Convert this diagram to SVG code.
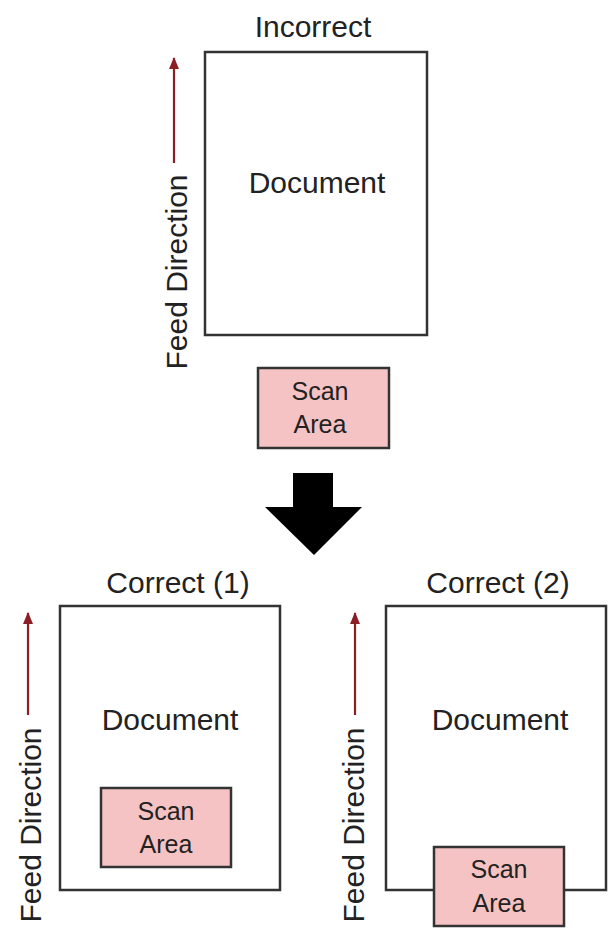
<svg xmlns="http://www.w3.org/2000/svg" width="612" height="937" viewBox="0 0 612 937">
<defs>
<style>
.t{font-family:"Liberation Sans",Arial,sans-serif;fill:#222;text-anchor:middle}
.lbl{font-size:30px}
.sa{font-size:25px}
.doc{fill:#fff;stroke:#333;stroke-width:2.5}
.scan{fill:#f5c3c3;stroke:#333;stroke-width:2.5}
.feed{stroke:#8b1f24;stroke-width:2.2;fill:none}
</style>
<marker id="ah" viewBox="0 0 12 10" refX="11" refY="5" markerWidth="12" markerHeight="10" markerUnits="userSpaceOnUse" orient="auto">
<path d="M0,0 L12,5 L0,10 Z" fill="#8b1f24"/>
</marker>
</defs>
<rect width="612" height="937" fill="#fff"/>

<g id="incorrect">
<text class="t lbl" x="313" y="37">Incorrect</text>
<rect class="doc" x="205" y="52" width="222" height="283"/>
<text class="t lbl" x="317" y="193">Document</text>
<rect class="scan" x="258" y="368" width="131" height="80"/>
<text class="t sa" x="320" y="400">Scan</text>
<text class="t sa" x="320" y="433">Area</text>
<text class="t lbl" transform="translate(187,272) rotate(-90)" x="0" y="0">Feed Direction</text>
</g>

<g id="correct1">
<text class="t lbl" x="178" y="593">Correct (1)</text>
<rect class="doc" x="60" y="606" width="220" height="284"/>
<text class="t lbl" x="170" y="730">Document</text>
<rect class="scan" x="101" y="788" width="130" height="79"/>
<text class="t sa" x="166" y="820">Scan</text>
<text class="t sa" x="166" y="853">Area</text>
<text class="t lbl" transform="translate(41,825) rotate(-90)" x="0" y="0">Feed Direction</text>
</g>

<g id="correct2">
<text class="t lbl" x="498" y="593">Correct (2)</text>
<rect class="doc" x="386" y="606" width="220" height="284"/>
<text class="t lbl" x="500" y="730">Document</text>
<rect class="scan" x="434" y="847" width="130" height="79"/>
<text class="t sa" x="499" y="878">Scan</text>
<text class="t sa" x="499" y="912">Area</text>
<text class="t lbl" transform="translate(364,825) rotate(-90)" x="0" y="0">Feed Direction</text>
</g>

<g id="connectors">
<line class="feed" x1="174" y1="163" x2="174" y2="58" marker-end="url(#ah)"/>
<line class="feed" x1="28" y1="715" x2="28" y2="613" marker-end="url(#ah)"/>
<line class="feed" x1="355" y1="715" x2="355" y2="613" marker-end="url(#ah)"/>
<path d="M293,473 H333 V507 H362 L314,555 L265,507 H293 Z" fill="#000"/>
</g>
</svg>
